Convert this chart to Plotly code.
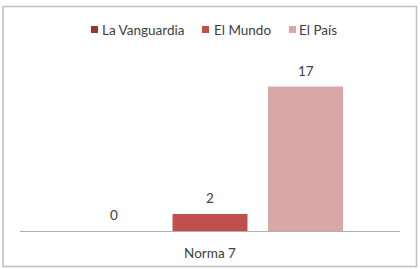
import plotly.graph_objects as go

categories = ["Norma 7"]
series_names = ["La Vanguardia", "El Mundo", "El País"]
la_vanguardia = [0]
el_mundo = [2]
el_pais = [17]
colors = ["#953735", "#C0504D", "#D9A7A6"]
all_series = [la_vanguardia, el_mundo, el_pais]

L, R, T, B = 20, 20, 78, 38
W, H = 420, 269
pw = W - L - R
ph = H - T - B
BARGAP = 0.246
GROUPGAP = 0.215


def px_x(p):
    return (p - L) / pw


def px_y(p):
    return (H - B - p) / ph


fig = go.Figure()
for name, vals, col in zip(series_names, all_series, colors):
    fig.add_trace(go.Bar(
        x=categories, y=vals, name=name,
        marker=dict(color=col, line=dict(width=0)),
        showlegend=False,
    ))

# data labels positioned from the bar slots
n = len(all_series)
slot = (1 - BARGAP) / n
annotations = []
for i, vals in enumerate(all_series):
    for j, v in enumerate(vals):
        annotations.append(dict(
            x=j + (i - (n - 1) / 2) * slot, y=v, xref="x", yref="y",
            text=str(v), showarrow=False, yanchor="middle", yshift=16,
            font=dict(size=13.5, color="#404040"),
        ))

# manual legend (squares + text)
legend_sq = [91, 202, 289]
legend_tx = [100, 212, 297]
shapes = []
for sq, tx, name, col in zip(legend_sq, legend_tx, series_names, colors):
    shapes.append(dict(type="rect", xref="paper", yref="paper",
                       x0=px_x(sq), x1=px_x(sq + 7), y0=px_y(33), y1=px_y(26),
                       line=dict(width=0), fillcolor=col))
    annotations.append(dict(x=px_x(tx), y=px_y(29.5), xref="paper", yref="paper",
                            text=name, showarrow=False, xanchor="left", yanchor="middle",
                            font=dict(size=13.5, color="#404040")))

shapes.append(dict(type="rect", xref="paper", yref="paper",
                   x0=px_x(3), x1=px_x(416.5), y0=px_y(266.5), y1=px_y(6.5),
                   line=dict(color="#BFBFBF", width=1.5), fillcolor="rgba(0,0,0,0)"))

fig.update_layout(
    width=W, height=H,
    margin=dict(l=L, r=R, t=T, b=B, pad=0, autoexpand=False),
    paper_bgcolor="white", plot_bgcolor="white",
    barmode="group", bargap=BARGAP, bargroupgap=GROUPGAP,
    font=dict(family="Lato, Open Sans, sans-serif", size=13, color="#404040"),
    showlegend=False,
    xaxis=dict(showline=True, linecolor="#B0B0B0", linewidth=1, ticks="",
               ticklabelstandoff=10, automargin=False,
               tickfont=dict(size=13.5, color="#404040"), showgrid=False),
    yaxis=dict(range=[0, 18], visible=False, showgrid=False, zeroline=False,
               automargin=False),
    shapes=shapes,
    annotations=annotations,
)

fig.write_html("out.html")
